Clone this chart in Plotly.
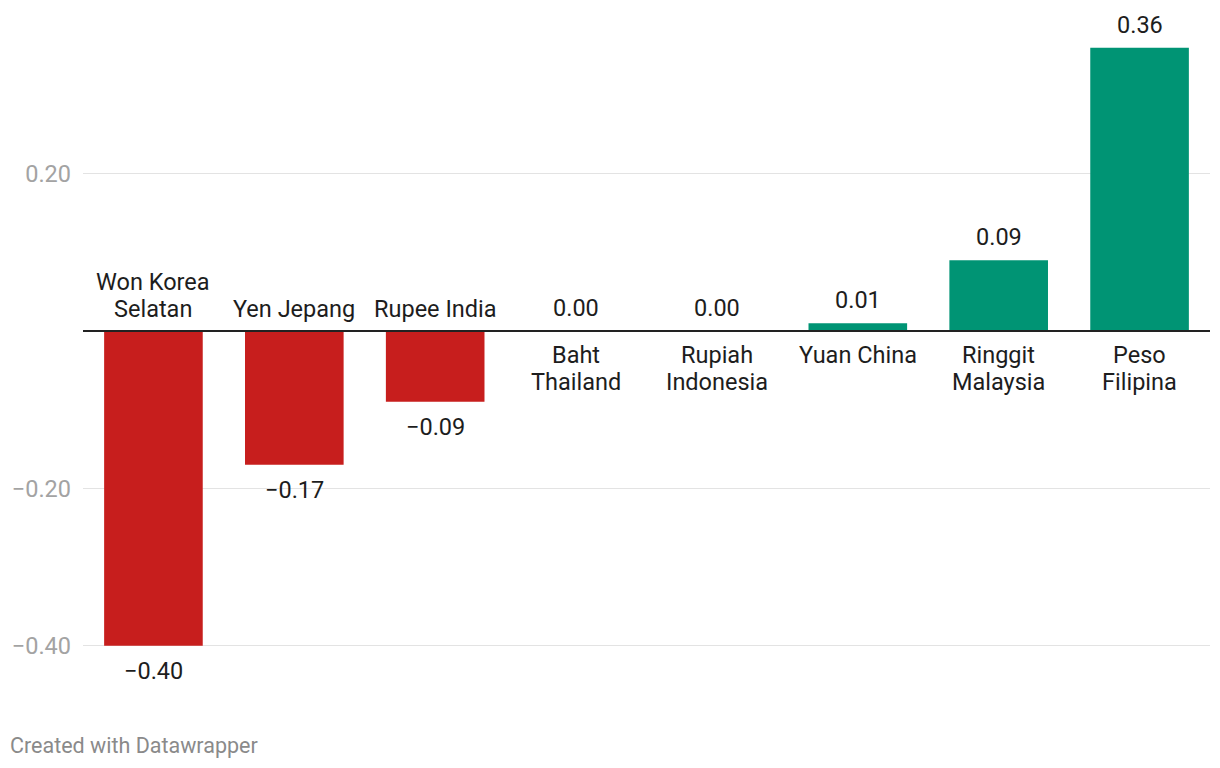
import plotly.graph_objects as go

categories = ["Won Korea<br>Selatan", "Yen Jepang", "Rupee India", "Baht<br>Thailand",
              "Rupiah<br>Indonesia", "Yuan China", "Ringgit<br>Malaysia", "Peso<br>Filipina"]
values = [-0.40, -0.17, -0.09, 0.00, 0.00, 0.01, 0.09, 0.36]
tick_vals = [-0.40, -0.20, 0.20]
tick_text = ["\u22120.40", "\u22120.20", "0.20"]

RED = "#c71e1d"
GREEN = "#009474"
colors = [RED if v < 0 else GREEN for v in values]

def fmt(v):
    s = f"{abs(v):.2f}"
    return ("\u2212" + s) if v < 0 else s

LABEL_SIZE = 23.5
LINE_GAP = 27
TEXT_COLOR = "#1d1d1d"

fig = go.Figure()
fig.add_trace(go.Bar(x=categories, y=values, marker=dict(color=colors, line=dict(width=0)),
                     hoverinfo="skip"))

annotations = []
for c, v in zip(categories, values):
    neg = v < 0
    annotations.append(dict(x=c, y=v, xref="x", yref="y", text=fmt(v), showarrow=False,
                            yanchor="top" if neg else "bottom", yshift=-9 if neg else 7,
                            font=dict(size=LABEL_SIZE, color=TEXT_COLOR, family="Roboto")))
    lines = c.split("<br>")
    n = len(lines)
    for i, ln in enumerate(lines):
        if neg:
            shift = 6 + (n - 1 - i) * LINE_GAP
            anchor = "bottom"
        else:
            shift = -8 - i * LINE_GAP
            anchor = "top"
        annotations.append(dict(x=c, y=0, xref="x", yref="y", text=ln, showarrow=False,
                                yanchor=anchor, yshift=shift,
                                font=dict(size=LABEL_SIZE, color=TEXT_COLOR, family="Roboto")))

annotations.append(dict(x=0, y=0, xref="paper", yref="paper", xanchor="left", yanchor="bottom",
                        text="Created with Datawrapper", showarrow=False, xshift=-75, yshift=-60,
                        font=dict(size=21.5, color="#8a8a8a", family="Roboto")))

px_per_unit = 787.0
top_px, bottom_px, zero_px = 20, 700, 331
y_max = (zero_px - top_px) / px_per_unit
y_min = (zero_px - bottom_px) / px_per_unit

fig.update_layout(
    width=1220, height=768,
    margin=dict(l=83, r=10, t=top_px, b=768 - bottom_px),
    paper_bgcolor="white", plot_bgcolor="white",
    bargap=0.3, showlegend=False,
    font=dict(family="Roboto"),
    annotations=annotations,
    xaxis=dict(showticklabels=False, showgrid=False, zeroline=False, showline=False, fixedrange=True),
    yaxis=dict(range=[y_min, y_max], tickvals=tick_vals, ticktext=tick_text,
               showgrid=True, gridcolor="#e3e3e3", gridwidth=1,
               zeroline=False, showline=False, ticklabelstandoff=11,
               tickfont=dict(size=LABEL_SIZE, color="#a3a3a3", family="Roboto")),
    shapes=[dict(type="line", xref="paper", yref="y", x0=0, x1=1, y0=0, y1=0,
                 line=dict(color="#222222", width=2), layer="above")],
)

fig.write_html("out.html")
